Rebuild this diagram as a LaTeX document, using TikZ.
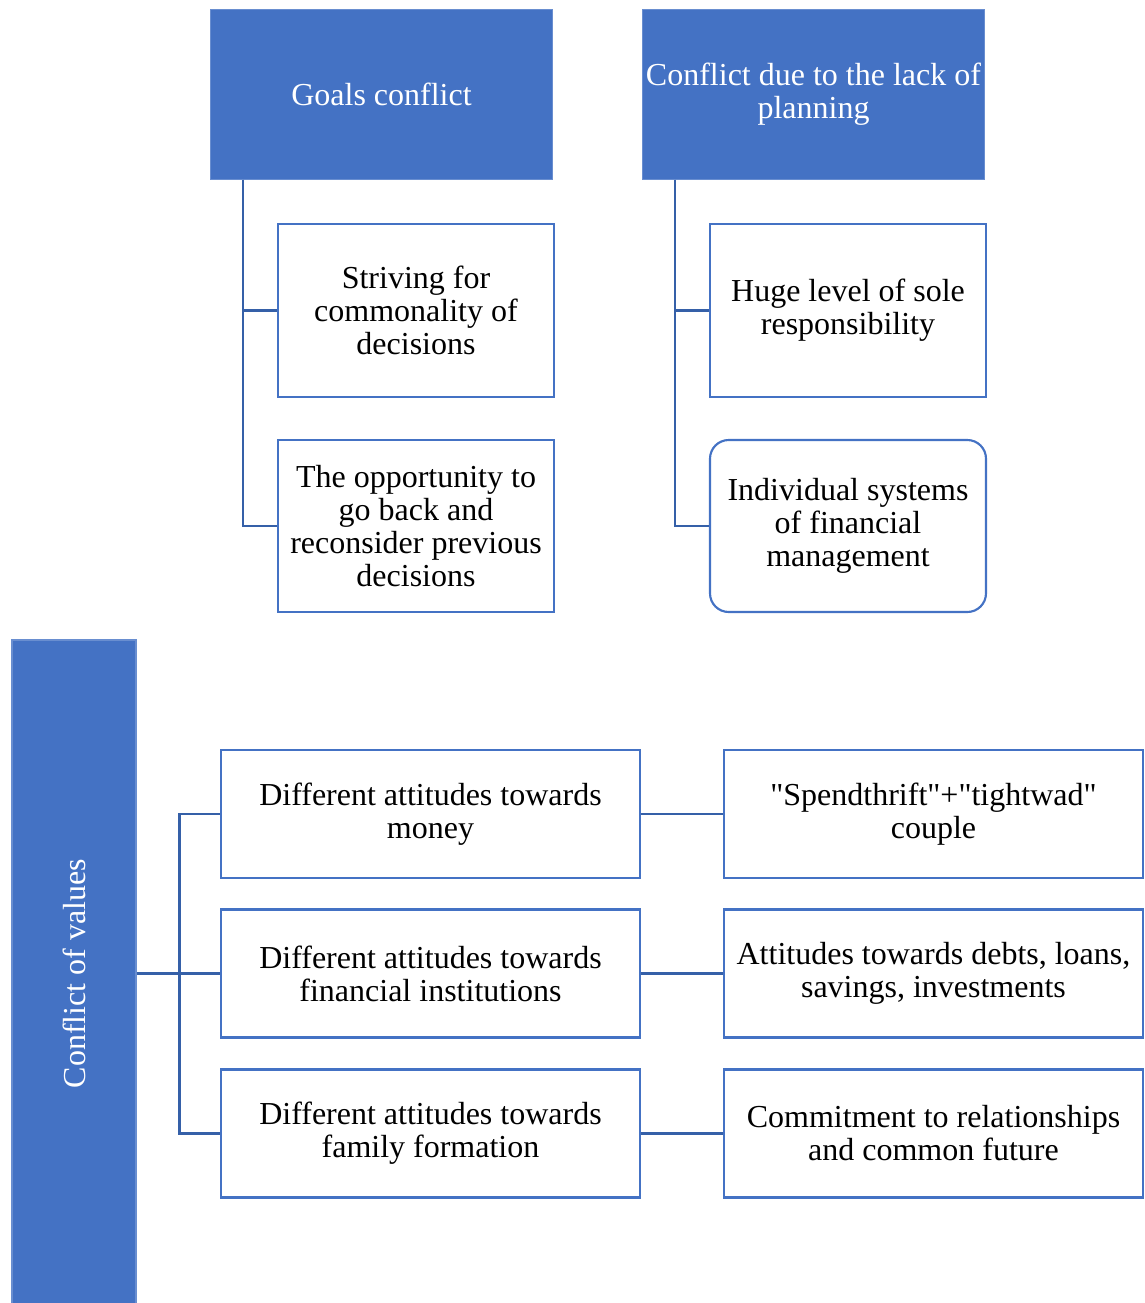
\documentclass[tikz,border=0pt]{standalone}
\usepackage{fontspec}
\setmainfont{Liberation Serif}
\usetikzlibrary{positioning}

\definecolor{headblue}{HTML}{4472C4}
\definecolor{lineblue}{HTML}{3560A8}

\begin{document}
\begin{tikzpicture}[x=0.75pt, y=-0.75pt,
    every node/.style={font=\fontsize{24}{24.75}\selectfont, align=center, inner sep=2pt},
    head/.style={rectangle, fill=headblue, draw=headblue!80!white, line width=0.8pt, text=white},
    leaf/.style={rectangle, draw=headblue, line width=1.6pt, fill=white},
    conn/.style={draw=lineblue, line width=1.6pt}]
    \useasboundingbox (0, 0) rectangle (1145, 1303);

    % Top left: goals
    \node[head, minimum width=257pt, minimum height=127pt] (goals) at (381.5, 94.5) {Goals conflict};
    \node[leaf, minimum width=207pt, minimum height=130pt] (striving) at (416, 310.5) {Striving for\\commonality of\\decisions};
    \node[leaf, minimum width=207pt, minimum height=129pt] (opportunity) at (416, 526) {The opportunity to\\go back and\\reconsider previous\\decisions};

    % Top right: planning
    \node[head, minimum width=257pt, minimum height=127pt] (planning) at (813.5, 94.5) {Conflict due to the lack of\\planning};
    \node[leaf, minimum width=207pt, minimum height=130pt] (huge) at (848, 310.5) {Huge level of sole\\responsibility};
    \node[leaf, rounded corners=14pt, minimum width=207pt, minimum height=129pt] (individual) at (848, 526) {Individual systems\\of financial\\management};

    % Bottom: values (runs past the lower edge)
    \node[head, minimum width=93pt, minimum height=510pt] (values) at (74, 980) {};
    \node[text=white, rotate=90] (valuestext) at (74, 973.5) {Conflict of values};

    \node[leaf, minimum width=314pt, minimum height=96pt] (money) at (430.5, 814) {Different attitudes towards\\money};
    \node[leaf, minimum width=314pt, minimum height=96pt] (institutions) at (430.5, 973.5) {Different attitudes towards\\financial institutions};
    \node[leaf, minimum width=314pt, minimum height=96pt] (family) at (430.5, 1133.5) {Different attitudes towards\\family formation};

    \node[leaf, minimum width=314pt, minimum height=96pt] (couple) at (933.5, 814) {\textquotedbl Spendthrift\textquotedbl+\textquotedbl tightwad\textquotedbl\\couple};
    \node[leaf, minimum width=314pt, minimum height=96pt] (debts) at (933.5, 973.5) {Attitudes towards debts, loans,\\savings, investments};
    \node[leaf, minimum width=314pt, minimum height=96pt] (commitment) at (933.5, 1133.5) {Commitment to relationships\\and common future};

    % Draw the connectors
    \coordinate (goalsfork) at ([xshift=24.75pt]goals.south west);
    \draw[conn] (goalsfork) |- (striving.west);
    \draw[conn] (goalsfork) |- (opportunity.west);

    \coordinate (planfork) at ([xshift=24.75pt]planning.south west);
    \draw[conn] (planfork) |- (huge.west);
    \draw[conn] (planfork) |- (individual.west);

    \coordinate (valuesout) at (values.east |- institutions.west);
    \coordinate (valuesfork) at ([xshift=32.25pt]valuesout);
    \draw[conn] (valuesout) -- (valuesfork);
    \draw[conn] (valuesfork) |- (money.west);
    \draw[conn] (valuesfork) |- (institutions.west);
    \draw[conn] (valuesfork) |- (family.west);

    \draw[conn] (money) -- (couple);
    \draw[conn] (institutions) -- (debts);
    \draw[conn] (family) -- (commitment);
\end{tikzpicture}
\end{document}
